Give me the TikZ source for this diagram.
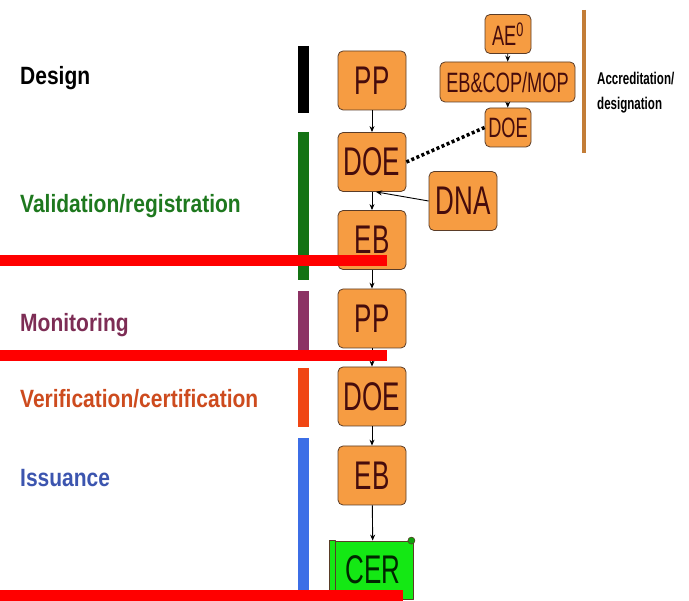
\documentclass[tikz,border=0pt]{standalone}
\usepackage{fontspec}
\usetikzlibrary{arrows.meta}
\setmainfont{Liberation Sans}
\newfontfamily\phasefont[FakeStretch=0.84]{Liberation Sans}
\newfontfamily\boxfont[FakeStretch=0.65]{Liberation Sans}
\newfontfamily\notefont[FakeStretch=0.68]{Liberation Sans}
\definecolor{boxorange}{RGB}{246,156,66}
\definecolor{boxline}{RGB}{90,60,40}
\definecolor{boxtext}{RGB}{70,12,12}
\definecolor{cergreen}{RGB}{20,232,20}
\definecolor{txgreen}{RGB}{30,120,30}
\definecolor{bargreen}{RGB}{20,115,20}
\definecolor{txpurple}{RGB}{125,45,85}
\definecolor{barpurple}{RGB}{140,50,100}
\definecolor{txorange}{RGB}{205,75,30}
\definecolor{barorange}{RGB}{240,70,20}
\definecolor{txblue}{RGB}{60,85,175}
\definecolor{barblue}{RGB}{60,110,230}
\definecolor{brownbar}{RGB}{195,125,55}
\tikzset{
  stage/.style={draw=boxline, fill=boxorange, rounded corners=5pt, line width=0.8pt,
    text=boxtext, inner sep=0pt, minimum width=68pt, minimum height=59pt,
    font=\boxfont\fontsize{40}{40}\selectfont},
  accbox/.style={stage, minimum width=46pt, minimum height=39pt,
    font=\boxfont\fontsize{28}{28}\selectfont},
  certbox/.style={draw=boxline, fill=cergreen, line width=0.8pt, text=black!85!green,
    inner sep=0pt, minimum width=80pt, minimum height=58pt,
    font=\boxfont\fontsize{40}{40}\selectfont},
  phase/.style={anchor=base west, inner sep=0pt, font=\phasefont\bfseries\fontsize{25}{25}\selectfont},
  phasebar/.style={line width=11pt},
  cutline/.style={red, line width=11pt},
  flow/.style={->, line width=0.9pt},
}
\begin{document}
\begin{tikzpicture}[x=1pt,y=-1pt,>={Stealth[length=6pt,width=5pt]},line join=round]
  \useasboundingbox (0,0) rectangle (689,601);
  \def\barx{303.5}
  \def\colx{372}

  % phase names
  \node[phase] (design) at (20,85) {Design};
  \node[phase, txgreen] (valid) at (20,213) {Validation/registration};
  \node[phase, txpurple] (monit) at (20,332) {Monitoring};
  \node[phase, txorange] (verif) at (20,408) {Verification/certification};
  \node[phase, txblue] (issue) at (20,487) {Issuance};

  % phase bars
  \draw[phasebar, black] (\barx,46) -- (\barx,113);
  \draw[phasebar, bargreen] (\barx,132) -- (\barx,280);
  \draw[phasebar, barpurple] (\barx,291) -- (\barx,352);
  \draw[phasebar, barorange] (\barx,368) -- (\barx,427);
  \draw[phasebar, barblue] (\barx,438) -- (\barx,592);

  % project cycle
  \node[stage] (pp1) at (\colx,80.5) {PP};
  \node[stage] (doe1) at (\colx,162) {DOE};
  \node[stage] (eb1) at (\colx,240) {EB};
  \node[stage] (pp2) at (\colx,318.5) {PP};
  \node[stage] (doe2) at (\colx,396.5) {DOE};
  \node[stage] (eb2) at (\colx,475.5) {EB};
  \node[certbox] (cer) at (\colx+1,570) {CER};
  \draw[fill=cergreen, draw=boxline, line width=0.6pt] ([xshift=-3pt]cer.north west) rectangle ([xshift=3pt]cer.south west);
  \draw[fill=cergreen!70!black, draw=boxline, line width=0.6pt] ([xshift=-2pt]cer.north east) circle (3.5pt);

  % accreditation
  \node[accbox] (ae) at (508,34) {AE\textsuperscript{0}};
  \node[accbox, minimum width=135pt, minimum height=40pt] (cop) at (507.5,82) {EB\&COP/MOP};
  \node[accbox] (does) at (508,127.5) {DOE};
  \node[stage] (dna) at (463,201) {DNA};
  \draw[brownbar, line width=4pt] (584,10) -- (584,153);
  \node[anchor=north west, inner sep=0pt, align=left,
    font=\notefont\bfseries\fontsize{17}{25}\selectfont] (accnote) at (597,72) {Accreditation/\\designation};

  % connectors
  \draw[flow] (pp1) -- (doe1);
  \draw[flow] (doe1) -- (eb1);
  \draw[flow] (eb1) -- (pp2);
  \draw[flow] (pp2) -- (doe2);
  \draw[flow] (doe2) -- (eb2);
  \draw[flow] (eb2) -- (cer);
  \draw[flow] (ae) -- (cop);
  \draw[flow] (cop) -- (does);
  \draw[flow] (dna.west) -- ([xshift=4pt]doe1.south);
  \draw[line width=3.5pt, dash pattern=on 3pt off 2.5pt] (does.west) -- (doe1.east);

  % red cut lines
  \draw[cutline] (0,260.5) -- (387,260.5);
  \draw[cutline] (0,356) -- (387,356);
  \draw[cutline] (0,595.5) -- (403,595.5);
\end{tikzpicture}
\end{document}
